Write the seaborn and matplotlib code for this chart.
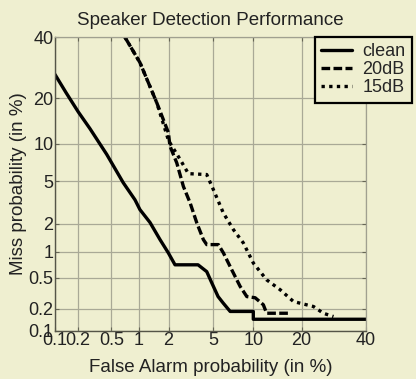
import numpy as np
import pandas as pd
import matplotlib
matplotlib.use('Agg')
import matplotlib.pyplot as plt
import seaborn as sns
from statistics import NormalDist

# --- data (values in %) ---
clean_fa = [0.1, 0.14, 0.2, 0.279, 0.442, 0.681, 0.914, 1.03, 1.31, 1.65, 1.99, 2.30,
            3.71, 4.40, 4.85, 5.45, 5.97, 6.78, 10.0, 10.0, 40.0]
clean_miss = [27.0, 21.5, 16.5, 12.8, 8.3, 4.85, 3.4, 2.75, 2.05, 1.36, 0.97, 0.71,
              0.71, 0.59, 0.43, 0.29, 0.24, 0.185, 0.185, 0.145, 0.145]

db20_fa = [0.71, 1.03, 1.53, 1.99, 2.06, 2.39, 2.75, 3.16, 3.62, 4.12, 4.40, 5.48,
           6.01, 6.97, 8.05, 9.0, 10.3, 11.7, 12.3, 16.8]
db20_miss = [40.0, 30.9, 18.8, 12.0, 9.6, 7.1, 4.5, 3.19, 2.03, 1.36, 1.20, 1.20,
             0.97, 0.62, 0.39, 0.29, 0.28, 0.227, 0.175, 0.175]

db15_fa = [0.71, 1.03, 1.53, 2.0, 2.56, 3.05, 4.40, 5.0, 6.0, 7.18, 8.5, 10.0,
           12.3, 15.0, 18.0, 23.2, 26.0, 29.1]
db15_miss = [40.0, 30.9, 18.8, 10.5, 7.6, 5.8, 5.7, 4.2, 2.55, 1.73, 1.25, 0.745,
             0.47, 0.354, 0.25, 0.215, 0.175, 0.158]

conditions = ['clean', '20dB', '15dB']
ticks = [0.1, 0.2, 0.5, 1, 2, 5, 10, 20, 40]
tick_labels = ['0.1', '0.2', '0.5', '1', '2', '5', '10', '20', '40']

df = pd.concat([
    pd.DataFrame({'fa': clean_fa, 'miss': clean_miss, 'cond': 'clean'}),
    pd.DataFrame({'fa': db20_fa, 'miss': db20_miss, 'cond': '20dB'}),
    pd.DataFrame({'fa': db15_fa, 'miss': db15_miss, 'cond': '15dB'}),
], ignore_index=True)

# --- normal deviate (probit) scale ---
_nd = NormalDist()
_ppf = np.vectorize(_nd.inv_cdf, otypes=[float])
_cdf = np.vectorize(_nd.cdf, otypes=[float])


def fwd(p):
    p = np.clip(np.asarray(p, dtype=float) / 100.0, 1e-7, 1 - 1e-7)
    return _ppf(p)


def inv(z):
    return _cdf(np.asarray(z, dtype=float)) * 100.0


bg = '#efefd0'
sns.set_style('ticks')
plt.rcParams['font.family'] = ['Liberation Sans', 'DejaVu Sans']

fig = plt.figure(figsize=(4.16, 3.79), dpi=100, facecolor=bg)
ax = fig.add_axes([0.132, 0.127, 0.748, 0.775], facecolor=bg)

sns.lineplot(data=df, x='fa', y='miss', style='cond', style_order=conditions,
             dashes={'clean': '', '20dB': (2.6, 1.0), '15dB': (1.0, 1.3)},
             color='black', linewidth=2.4, sort=False, estimator=None,
             legend=False, ax=ax)

ax.set_xscale('function', functions=(fwd, inv))
ax.set_yscale('function', functions=(fwd, inv))
ax.set_xlim(0.1, 40)
ax.set_ylim(0.1, 40)
ax.set_xticks(ticks)
ax.set_xticklabels(tick_labels)
ax.set_yticks(ticks)
ax.set_yticklabels(tick_labels)
ax.minorticks_off()

ax.grid(True, color='#a9a996', linewidth=0.9)
ax.tick_params(direction='in', top=True, right=True, length=3, width=0.8,
               labelsize=13, pad=1, color='#666655', labelcolor='#222222')
for side in ['left', 'bottom']:
    ax.spines[side].set_color('#555548')
    ax.spines[side].set_linewidth(1.0)
for side in ['top', 'right']:
    ax.spines[side].set_color('#a0a090')
    ax.spines[side].set_linewidth(0.9)

ax.set_title('Speaker Detection Performance', fontsize=13.5, pad=9, color='#222222')
ax.set_xlabel('False Alarm probability (in %)', fontsize=13.5, labelpad=7, color='#222222')
ax.set_ylabel('Miss probability (in %)', fontsize=13.5, labelpad=1, color='#222222')

leg = ax.legend(ax.lines, conditions, loc='upper right',
                bbox_to_anchor=(0.99, 0.902), bbox_transform=fig.transFigure,
                borderaxespad=0, fancybox=False, fontsize=13, handlelength=1.7,
                handletextpad=0.6, labelspacing=0.05, borderpad=0.35,
                facecolor=bg, framealpha=1, edgecolor='black')
leg.get_frame().set_linewidth(1.6)

fig.savefig('out.png', dpi=100, facecolor=bg)
